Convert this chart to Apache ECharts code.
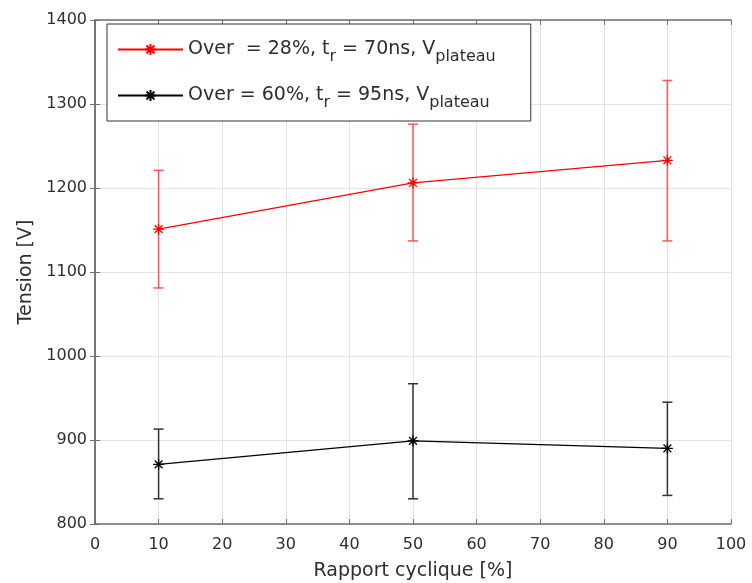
<!DOCTYPE html>
<html><head><meta charset="utf-8">
<script src="https://cdn.jsdelivr.net/npm/echarts@6/dist/echarts.min.js"></script>
<style>html,body{margin:0;padding:0;background:#fff}#c{width:752px;height:583px}</style>
</head><body><div id="c"></div>
<script>
const xValues = [10, 50, 90];
const redMean = [1151, 1206, 1233];
const redLow = [1081, 1137, 1137];
const redHigh = [1221, 1276, 1328];
const blackMean = [871, 899, 890];
const blackLow = [830, 830, 834];
const blackHigh = [913, 967, 945];
const redName = 'Over  = 28%, t_r = 70ns, V_plateau';
const blackName = 'Over = 60%, t_r = 95ns, V_plateau';
const xLabel = 'Rapport cyclique [%]';
const yLabel = 'Tension [V]';

const FONT = '"DejaVu Sans", Verdana, sans-serif';
const star = 'path://M0,-1L0,1M-1,0L1,0M-0.71,-0.71L0.71,0.71M-0.71,0.71L0.71,-0.71';
const axisColor = '#6e6e6e';
const gridColor = '#e3e3e3';
const textColor = '#2e2e2e';

function errData(lo, hi) { return xValues.map((x, i) => [x, lo[i], hi[i]]); }
function errSeries(lo, hi, color) {
  return {
    type: 'custom', silent: true, z: 2,
    data: errData(lo, hi),
    encode: { x: 0, y: [1, 2] },
    renderItem: function (params, api) {
      const a = api.coord([api.value(0), api.value(1)]);
      const b = api.coord([api.value(0), api.value(2)]);
      const w = 5;
      const st = { stroke: color, lineWidth: 1.5 };
      return { type: 'group', children: [
        { type: 'line', shape: { x1: a[0], y1: a[1], x2: b[0], y2: b[1] }, style: st },
        { type: 'line', shape: { x1: a[0]-w, y1: a[1], x2: a[0]+w, y2: a[1] }, style: st },
        { type: 'line', shape: { x1: b[0]-w, y1: b[1], x2: b[0]+w, y2: b[1] }, style: st }
      ]};
    }
  };
}
function lineSeries(name, vals, color) {
  return {
    name: name, type: 'line', z: 3,
    data: xValues.map((x, i) => [x, vals[i]]),
    symbol: star, symbolSize: 11,
    lineStyle: { color: color, width: 1.3 },
    itemStyle: { color: color, borderColor: color, borderWidth: 1.3 }
  };
}
const chart = echarts.init(document.getElementById('c'), null, { renderer: 'canvas' });
const commonAxis = {
  axisLine: { show: true, lineStyle: { color: axisColor, width: 1.5 } },
  axisTick: { show: true, inside: true, length: 5, lineStyle: { color: axisColor } },
};
chart.setOption({
  animation: false,
  backgroundColor: '#fff',
  textStyle: { fontFamily: FONT },
  grid: { left: 95, right: 21, top: 20, bottom: 59, containLabel: false, outerBoundsMode: 'none' },
  legend: {
    orient: 'vertical', left: 107, top: 24,
    data: [redName, blackName],
    backgroundColor: '#fff', borderColor: '#333', borderWidth: 1,
    padding: [16, 35, 10, 10], itemGap: 21, itemWidth: 65, itemHeight: 14,
    formatter: function (n) {
      const parts = n.split(', ');
      const tr = parts[1].split('_r');
      return '{a|' + parts[0] + ', t}{s|r}{a|' + tr[1] + ', V}{s|plateau}';
    },
    textStyle: {
      fontFamily: FONT, color: textColor,
      rich: {
        a: { fontSize: 19, fontFamily: FONT, color: textColor },
        s: { fontSize: 16, fontFamily: FONT, color: textColor, padding: [15, 0, 0, 0] }
      }
    }
  },
  xAxis: [{
    type: 'value', min: 0, max: 100, interval: 10,
    name: xLabel, nameLocation: 'middle', nameGap: 38,
    nameTextStyle: { fontSize: 19, color: textColor, fontFamily: FONT },
    axisLabel: { fontSize: 16, color: textColor, margin: 13, fontFamily: FONT },
    splitLine: { show: true, lineStyle: { color: gridColor, width: 1 } },
    ...commonAxis
  }, {
    type: 'value', min: 0, max: 100, interval: 10, position: 'top',
    axisLabel: { show: false }, splitLine: { show: false }, ...commonAxis
  }],
  yAxis: [{
    type: 'value', min: 800, max: 1400, interval: 100,
    name: yLabel, nameLocation: 'middle', nameGap: 57,
    nameTextStyle: { fontSize: 19, color: textColor, fontFamily: FONT },
    axisLabel: { fontSize: 16, color: textColor, margin: 8, fontFamily: FONT, formatter: v => String(v) },
    splitLine: { show: true, lineStyle: { color: gridColor, width: 1 } },
    ...commonAxis
  }, {
    type: 'value', min: 800, max: 1400, interval: 100, position: 'right',
    axisLabel: { show: false }, splitLine: { show: false }, ...commonAxis
  }],
  series: [
    errSeries(redLow, redHigh, 'rgba(255,60,60,0.85)'),
    errSeries(blackLow, blackHigh, '#333'),
    lineSeries(redName, redMean, '#ff0000'),
    lineSeries(blackName, blackMean, '#000000')
  ]
});
</script></body></html>
